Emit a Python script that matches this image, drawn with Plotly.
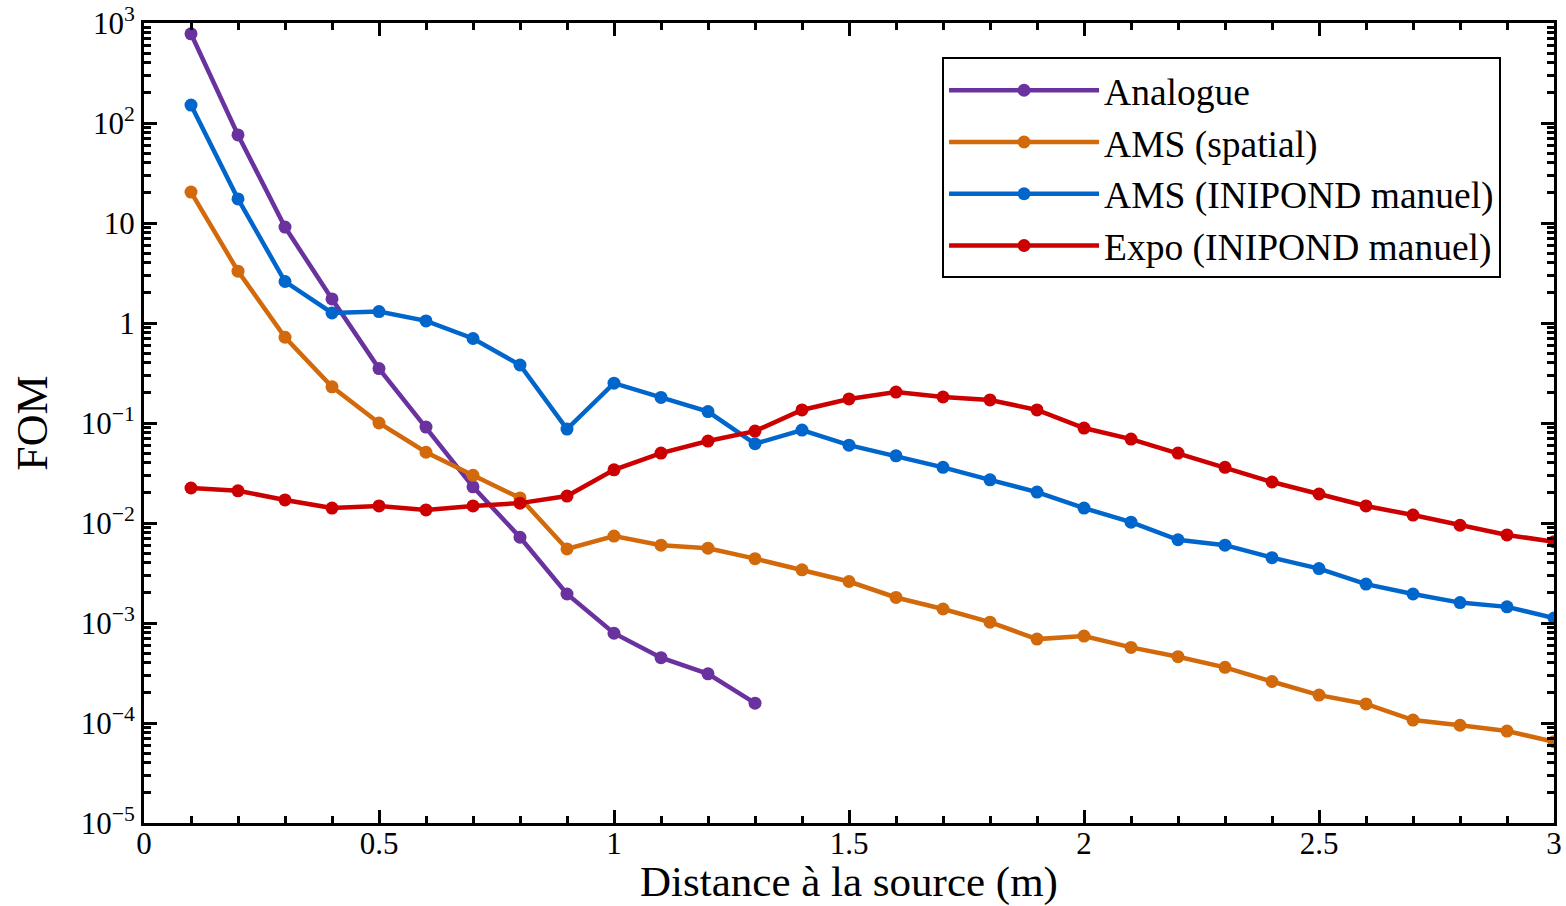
import plotly.graph_objects as go

x_analogue = [0.1, 0.2, 0.3, 0.4, 0.5, 0.6, 0.7, 0.8, 0.9, 1.0, 1.1, 1.2, 1.3]
y_analogue = [780, 76, 9.1, 1.74, 0.35, 0.091, 0.023, 0.0072, 0.00195, 0.00079, 0.00045, 0.00031, 0.000158]

x_full = [0.1, 0.2, 0.3, 0.4, 0.5, 0.6, 0.7, 0.8, 0.9, 1.0,
          1.1, 1.2, 1.3, 1.4, 1.5, 1.6, 1.7, 1.8, 1.9, 2.0,
          2.1, 2.2, 2.3, 2.4, 2.5, 2.6, 2.7, 2.8, 2.9, 3.0]
y_ams_spatial = [20.4, 3.3, 0.72, 0.23, 0.1, 0.051, 0.030, 0.0178, 0.0055, 0.0074,
                 0.0060, 0.0056, 0.0044, 0.0034, 0.0026, 0.0018, 0.00138, 0.00102, 0.00069, 0.00074,
                 0.00057, 0.00046, 0.00036, 0.00026, 0.00019, 0.000155, 0.000107, 0.000095, 0.000083, 0.000065]
y_ams_inipond = [151, 17.4, 2.6, 1.26, 1.3, 1.05, 0.70, 0.38, 0.087, 0.25,
                 0.18, 0.13, 0.062, 0.085, 0.060, 0.047, 0.036, 0.027, 0.0204, 0.0141,
                 0.0102, 0.0068, 0.0060, 0.0045, 0.0035, 0.00245, 0.00195, 0.0016, 0.00145, 0.00112]
y_expo_inipond = [0.0224, 0.021, 0.017, 0.0141, 0.0148, 0.0135, 0.0148, 0.0158, 0.0186, 0.034,
                  0.050, 0.066, 0.083, 0.135, 0.174, 0.204, 0.182, 0.17, 0.135, 0.089,
                  0.069, 0.050, 0.036, 0.0257, 0.0195, 0.0148, 0.012, 0.0095, 0.0076, 0.0065]

series_names = ["Analogue", "AMS (spatial)", "AMS (INIPOND manuel)", "Expo (INIPOND manuel)"]
series_colors = ["#6a329f", "#d2690a", "#0066cc", "#cc0000"]

y_tickvals = [1e-5, 1e-4, 1e-3, 1e-2, 1e-1, 1, 10, 100, 1000]
y_ticktext = ["10<sup>\u22125</sup>", "10<sup>\u22124</sup>", "10<sup>\u22123</sup>",
              "10<sup>\u22122</sup>", "10<sup>\u22121</sup>", "1", "10",
              "10<sup>2</sup>", "10<sup>3</sup>"]

fig = go.Figure()
data = [(x_analogue, y_analogue), (x_full, y_ams_spatial), (x_full, y_ams_inipond), (x_full, y_expo_inipond)]
for (xs, ys), name, col in zip(data, series_names, series_colors):
    fig.add_trace(go.Scatter(
        x=xs, y=ys, name=name, mode="lines+markers",
        line=dict(color=col, width=4.5),
        marker=dict(color=col, size=13),
    ))

font_family = "Liberation Serif"
fig.update_layout(
    width=1566, height=906,
    margin=dict(l=144, r=12, t=23, b=83),
    paper_bgcolor="white", plot_bgcolor="white",
    font=dict(family=font_family, color="black", size=31),
    showlegend=True,
    legend=dict(
        x=0.566, y=0.957, xanchor="left", yanchor="top",
        bgcolor="white", bordercolor="black", borderwidth=2,
        font=dict(family=font_family, size=37.5, color="black"),
        itemwidth=150,
    ),
    xaxis=dict(
        range=[0, 3], dtick=0.5, tick0=0, automargin=False,
        showline=True, linecolor="black", linewidth=3, mirror="allticks",
        ticks="inside", ticklen=13, tickwidth=2.5, tickcolor="black",
        minor=dict(dtick=0.1, ticks="inside", ticklen=7, tickwidth=2.5, tickcolor="black"),
        showgrid=False, zeroline=False,
        ticklabelstandoff=-9,
        tickfont=dict(family=font_family, size=31),
        title=dict(text="Distance \u00e0 la source (m)", font=dict(family=font_family, size=43), standoff=22),
    ),
    yaxis=dict(
        type="log", range=[-5, 3], automargin=False,
        tickvals=y_tickvals, ticktext=y_ticktext,
        showline=True, linecolor="black", linewidth=3, mirror="allticks",
        ticks="inside", ticklen=13, tickwidth=2.5, tickcolor="black",
        minor=dict(dtick="D1", ticks="inside", ticklen=7, tickwidth=2.5, tickcolor="black"),
        showgrid=False, zeroline=False,
        tickfont=dict(family=font_family, size=31),
        title=dict(text="FOM", font=dict(family=font_family, size=44), standoff=20),
    ),
)

fig.write_html("out.html", config={"displayModeBar": False},
               post_script="document.body.style.margin='0px';")
